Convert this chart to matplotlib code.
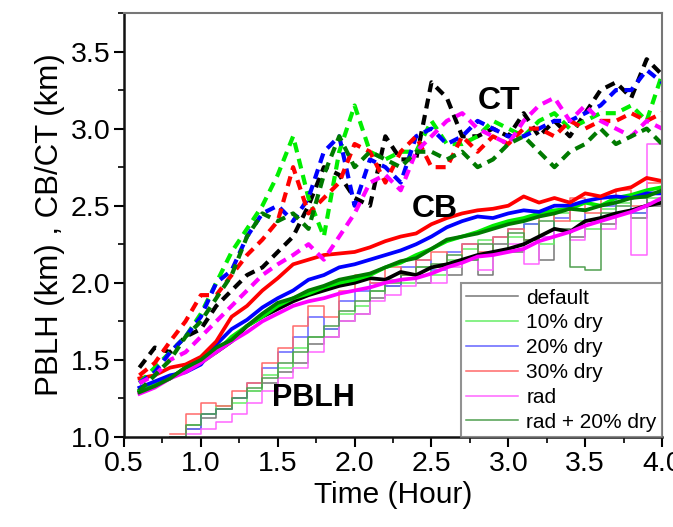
import matplotlib
matplotlib.use("Agg")
import matplotlib.pyplot as plt
from matplotlib.ticker import MultipleLocator

plt.rcParams['font.family'] = ['Liberation Sans', 'DejaVu Sans']

# time axis (hour) for cloud top / cloud base series
t = [0.6, 0.7, 0.8, 0.9, 1.0, 1.1, 1.2, 1.3, 1.4, 1.5, 1.6, 1.7, 1.8, 1.9,
     2.0, 2.1, 2.2, 2.3, 2.4, 2.5, 2.6, 2.7, 2.8, 2.9, 3.0, 3.1, 3.2, 3.3,
     3.4, 3.5, 3.6, 3.7, 3.8, 3.9, 4.0]
# time axis for PBLH (starts later)
t_pblh = t[2:]

labels = ['default', '10% dry', '20% dry', '30% dry', 'rad', 'rad + 20% dry']

# cloud top (km), dashed
ct_default = [1.45, 1.58, 1.55, 1.65, 1.70, 1.85, 1.95, 2.05, 2.10, 2.20, 2.30, 2.50,
              2.75, 2.70, 2.55, 2.50, 2.95, 2.80, 2.80, 3.30, 3.20, 2.95, 2.95, 3.00,
              2.95, 3.10, 2.95, 3.05, 2.95, 3.10, 3.25, 3.30, 3.20, 3.45, 3.35]
ct_dry10 = [1.35, 1.45, 1.55, 1.65, 1.80, 2.00, 2.20, 2.35, 2.50, 2.70, 2.95, 2.55,
            2.30, 2.85, 3.15, 2.85, 2.80, 2.85, 2.85, 3.05, 2.90, 2.90, 2.95, 3.05,
            3.00, 2.95, 3.05, 3.10, 3.00, 3.05, 3.10, 3.10, 3.15, 3.05, 3.35]
ct_dry20 = [1.35, 1.42, 1.55, 1.65, 1.78, 2.00, 2.08, 2.30, 2.45, 2.50, 2.40, 2.55,
            2.85, 2.95, 2.50, 2.80, 2.75, 2.65, 2.95, 3.00, 2.90, 2.95, 3.05, 3.00,
            2.95, 2.95, 3.00, 3.05, 3.05, 3.10, 3.15, 3.25, 3.25, 3.38, 3.30]
ct_dry30 = [1.40, 1.48, 1.62, 1.75, 1.92, 1.92, 2.05, 2.18, 2.28, 2.40, 2.75, 2.45,
            2.55, 2.65, 2.90, 2.85, 2.65, 2.85, 2.95, 2.75, 2.75, 2.95, 2.85, 2.95,
            2.90, 3.00, 3.00, 2.95, 3.05, 3.00, 3.05, 3.05, 3.10, 3.05, 3.10]
ct_rad = [1.35, 1.40, 1.50, 1.55, 1.65, 1.75, 1.85, 1.95, 2.05, 2.12, 2.18, 2.25,
          2.15, 2.30, 2.45, 2.65, 2.70, 2.60, 2.85, 2.95, 3.05, 3.10, 3.00, 2.95,
          2.90, 3.05, 3.15, 3.20, 3.05, 3.15, 3.05, 3.00, 2.95, 3.05, 3.00]
ct_rad_dry20 = [1.30, 1.40, 1.50, 1.65, 1.75, 1.90, 2.05, 2.30, 2.45, 2.40, 2.45, 2.35,
                2.70, 2.95, 2.75, 2.85, 2.80, 2.75, 2.85, 2.85, 2.80, 2.85, 2.75, 2.80,
                2.90, 2.95, 2.85, 2.75, 2.85, 2.90, 3.00, 2.90, 2.95, 3.00, 2.90]

# cloud base (km), solid
cb_default = [1.30, 1.34, 1.38, 1.45, 1.50, 1.55, 1.62, 1.72, 1.78, 1.83, 1.88, 1.92,
              1.95, 1.98, 2.00, 2.03, 2.02, 2.07, 2.05, 2.10, 2.12, 2.15, 2.18, 2.20,
              2.22, 2.25, 2.30, 2.35, 2.33, 2.40, 2.42, 2.45, 2.47, 2.50, 2.52]
cb_dry10 = [1.30, 1.35, 1.38, 1.45, 1.48, 1.55, 1.65, 1.72, 1.78, 1.85, 1.90, 1.93,
            1.97, 2.00, 2.02, 2.05, 2.10, 2.13, 2.18, 2.22, 2.27, 2.30, 2.33, 2.37,
            2.40, 2.42, 2.45, 2.47, 2.48, 2.52, 2.50, 2.55, 2.57, 2.60, 2.62]
cb_dry20 = [1.32, 1.36, 1.40, 1.42, 1.47, 1.60, 1.70, 1.76, 1.84, 1.90, 1.95, 2.02,
            2.05, 2.10, 2.12, 2.15, 2.18, 2.21, 2.25, 2.30, 2.36, 2.40, 2.43, 2.42,
            2.45, 2.47, 2.46, 2.50, 2.50, 2.53, 2.55, 2.56, 2.55, 2.58, 2.58]
cb_dry30 = [1.38, 1.40, 1.45, 1.47, 1.52, 1.62, 1.78, 1.85, 1.95, 2.03, 2.12, 2.15,
            2.18, 2.19, 2.20, 2.23, 2.27, 2.30, 2.32, 2.38, 2.42, 2.45, 2.47, 2.48,
            2.50, 2.56, 2.52, 2.55, 2.52, 2.58, 2.56, 2.60, 2.62, 2.68, 2.66]
cb_rad = [1.28, 1.32, 1.38, 1.42, 1.48, 1.55, 1.62, 1.68, 1.75, 1.80, 1.85, 1.88,
          1.90, 1.93, 1.95, 1.97, 2.00, 2.02, 2.03, 2.06, 2.10, 2.13, 2.17, 2.18,
          2.20, 2.22, 2.27, 2.30, 2.33, 2.37, 2.40, 2.43, 2.46, 2.50, 2.55]
cb_rad_dry20 = [1.29, 1.33, 1.38, 1.45, 1.50, 1.58, 1.63, 1.72, 1.80, 1.87, 1.90, 1.95,
                1.98, 2.02, 2.04, 2.06, 2.10, 2.14, 2.16, 2.22, 2.28, 2.30, 2.32, 2.35,
                2.38, 2.40, 2.43, 2.45, 2.48, 2.47, 2.50, 2.52, 2.55, 2.56, 2.60]

# PBL height (km), thin steps
pblh_default = [1.00, 1.05, 1.12, 1.18, 1.25, 1.30, 1.35, 1.42, 1.48, 1.60, 1.65,
                1.75, 1.80, 1.90, 1.98, 2.05, 2.00, 2.10, 2.05, 2.15, 2.05, 2.25,
                2.20, 2.28, 2.15, 2.35, 2.30, 2.40, 2.38, 2.45, 2.42, 2.50, 2.48]
pblh_dry10 = [1.00, 1.08, 1.15, 1.20, 1.22, 1.30, 1.40, 1.45, 1.58, 1.65, 1.70,
              1.80, 1.85, 1.95, 2.02, 2.00, 2.10, 2.05, 2.15, 2.22, 2.28, 2.20,
              2.30, 2.38, 2.25, 2.45, 2.40, 2.35, 2.48, 2.52, 2.45, 2.55, 2.58]
pblh_dry20 = [1.00, 1.05, 1.15, 1.18, 1.25, 1.35, 1.45, 1.55, 1.65, 1.78, 1.70,
              1.88, 1.95, 2.00, 1.98, 2.10, 2.15, 2.08, 2.20, 2.25, 2.18, 2.30,
              2.35, 2.38, 2.30, 2.42, 2.48, 2.40, 2.50, 2.55, 2.45, 2.58, 2.55]
pblh_dry30 = [1.02, 1.15, 1.22, 1.20, 1.30, 1.35, 1.48, 1.58, 1.72, 1.85, 1.78,
              1.95, 2.05, 2.00, 2.10, 2.05, 2.15, 2.20, 2.12, 2.25, 2.20, 2.30,
              2.35, 2.28, 2.45, 2.40, 2.55, 2.45, 2.55, 2.60, 2.50, 2.65, 2.60]
pblh_rad = [0.98, 1.02, 1.05, 1.10, 1.15, 1.22, 1.30, 1.38, 1.45, 1.55, 1.65,
            1.75, 1.80, 1.88, 1.92, 1.98, 2.05, 2.00, 2.10, 2.15, 2.08, 2.20,
            2.25, 2.12, 2.30, 2.35, 2.28, 2.40, 2.35, 2.45, 2.18, 2.90, 2.50]
pblh_rad_dry20 = [1.00, 1.08, 1.15, 1.18, 1.25, 1.32, 1.38, 1.48, 1.55, 1.65, 1.72,
                  1.82, 1.88, 1.95, 2.00, 2.05, 2.10, 2.12, 2.18, 2.15, 2.25, 2.20,
                  2.32, 2.28, 2.40, 2.35, 2.10, 2.08, 2.45, 2.50, 2.55, 2.52, 2.58]

ct_all = [ct_default, ct_dry10, ct_dry20, ct_dry30, ct_rad, ct_rad_dry20]
cb_all = [cb_default, cb_dry10, cb_dry20, cb_dry30, cb_rad, cb_rad_dry20]
pblh_all = [pblh_default, pblh_dry10, pblh_dry20, pblh_dry30, pblh_rad, pblh_rad_dry20]

dark_colors = ['black', '#00ee00', '#0000ff', '#ff0000', '#ff00ff', '#007a00']
light_colors = ['#777777', '#66ee66', '#6464ff', '#ff6a6a', '#ff66ff', '#4f9f4f']

fig = plt.figure(figsize=(6.73, 5.27), dpi=100)
ax = fig.add_axes([0.1843, 0.1708, 0.7994, 0.8046])

# PBLH step lines (thin)
for y, c, lab in zip(pblh_all, light_colors, labels):
    ax.plot(t_pblh, y, color=c, lw=1.1, drawstyle='steps-post', label=lab)

# cloud base (solid)
for y, c in zip(cb_all, dark_colors):
    ax.plot(t, y, color=c, lw=2.7)

# cloud top (dashed)
for y, c in zip(ct_all, dark_colors):
    ax.plot(t, y, color=c, lw=3.0, dashes=(2.4, 1.6))

ax.text(2.94, 3.18, 'CT', fontsize=23, fontweight='bold', ha='center', va='center')
ax.text(2.52, 2.48, 'CB', fontsize=23, fontweight='bold', ha='center', va='center')
ax.text(1.73, 1.25, 'PBLH', fontsize=22, fontweight='bold', ha='center', va='center')

ax.set_xlim(0.5, 4.0)
ax.set_ylim(1.0, 3.75)
ax.xaxis.set_major_locator(MultipleLocator(0.5))
ax.xaxis.set_minor_locator(MultipleLocator(0.25))
ax.yaxis.set_major_locator(MultipleLocator(0.5))
ax.yaxis.set_minor_locator(MultipleLocator(0.25))
ax.xaxis.set_major_formatter(plt.FormatStrFormatter('%.1f'))
ax.yaxis.set_major_formatter(plt.FormatStrFormatter('%.1f'))
ax.tick_params(which='major', direction='out', length=7, width=1.5, labelsize=20.5, pad=3)
ax.tick_params(which='minor', direction='out', length=4, width=1.2)
ax.tick_params(top=False, right=False)

for side in ['left', 'bottom']:
    ax.spines[side].set_linewidth(1.8)
    ax.spines[side].set_color('#111111')
for side in ['top', 'right']:
    ax.spines[side].set_linewidth(1.5)
    ax.spines[side].set_color('#777777')

ax.set_xlabel('Time (Hour)', fontsize=21.5, labelpad=3)
ax.set_ylabel('PBLH (km) , CB/CT (km)', fontsize=22.5, labelpad=4)

leg = ax.legend(loc='lower right', bbox_to_anchor=(1.0, 0.0), fontsize=15,
                frameon=True, fancybox=False, edgecolor='#777777',
                labelspacing=0.28, borderpad=0.25, handlelength=2.5,
                handletextpad=0.4, borderaxespad=0.0)
leg.get_frame().set_linewidth(1.5)

fig.savefig('out.png', dpi=100)
